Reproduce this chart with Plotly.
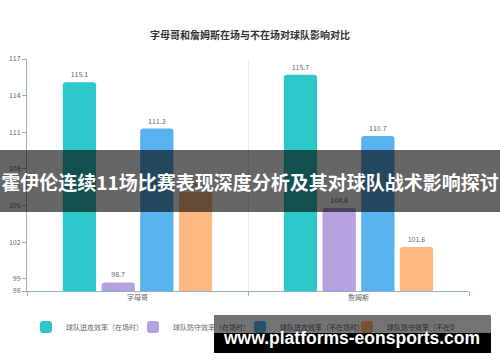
import plotly.graph_objects as go

categories = ["字母哥", "詹姆斯"]
series_names = ["球队进攻效率（在场时）", "球队防守效率（在场时）",
                "球队进攻效率（不在场时）", "球队防守效率（不在场时）"]
off_on = [115.1, 115.7]
def_on = [98.7, 104.8]
off_off = [111.3, 110.7]
def_off = [106.1, 101.6]
series_values = [off_on, def_on, off_off, def_off]
colors = ["#2ec7c9", "#b6a2de", "#5ab1ef", "#ffb980"]
y_ticks = [98, 99, 102, 105, 108, 111, 114, 117]

W, H = 500, 362
L, R, T, B = 27, 31, 59, 71
PW, PH = W - L - R, H - T - B
FONT = "Noto Sans CJK SC, Noto Sans, sans-serif"


def px(x):
    return (x - L) / PW


def py(y):
    return (H - B - y) / PH


fig = go.Figure()
for name, vals, c in zip(series_names, series_values, colors):
    fig.add_trace(go.Bar(
        x=categories, y=vals, name=name,
        marker=dict(color=c, cornerradius=3, line=dict(width=0)),
        text=vals, texttemplate="%{y}", textposition="outside",
        textfont=dict(size=7, color="#666666", family=FONT),
        cliponaxis=False,
    ))

axis_col = "#8fb3bf"
fig.update_layout(
    width=W, height=H,
    margin=dict(l=L, r=R, t=T, b=B, pad=0, autoexpand=False),
    paper_bgcolor="white", plot_bgcolor="white",
    font=dict(family=FONT, color="#666666"),
    barmode="group", bargap=0.30, bargroupgap=0.14,
    title=dict(text="<b>字母哥和詹姆斯在场与不在场对球队影响对比</b>",
               x=0.5, xref="container", xanchor="center",
               y=1 - 35 / H, yref="container", yanchor="middle",
               font=dict(size=10, color="#333333", family=FONT)),
    xaxis=dict(showline=True, linecolor=axis_col, linewidth=1,
               ticks="outside", ticklen=4, tickcolor=axis_col,
               tickson="boundaries", showgrid=True, gridcolor="#e3ecef",
               tickfont=dict(size=7, color="#666666")),
    yaxis=dict(range=[98, 117], tickvals=y_ticks, showline=True,
               linecolor=axis_col, linewidth=1, ticks="outside", ticklen=4,
               tickcolor=axis_col, showgrid=False, zeroline=False,
               tickfont=dict(size=7, color="#666666")),
    legend=dict(orientation="h", x=px(240), xanchor="center",
                y=py(327), yanchor="middle", itemwidth=30,
                entrywidth=62, entrywidthmode="pixels",
                tracegroupgap=0, bgcolor="rgba(0,0,0,0)",
                font=dict(size=7, color="#666666"), traceorder="normal"),
)

# overlay banner across the middle
fig.add_annotation(xref="paper", yref="paper", x=px(250), y=py(181),
                   xanchor="center", yanchor="middle", showarrow=False,
                   text="<b>霍伊伦连续11场比赛表现深度分析及其对球队战术影响探讨</b>",
                   font=dict(size=19, color="white", family=FONT),
                   bgcolor="rgba(0,0,0,0.6)", width=W, height=62,
                   borderpad=0, borderwidth=0)
# watermark at bottom
fig.add_annotation(xref="paper", yref="paper", x=px(352.5), y=py(324),
                   xanchor="center", yanchor="middle", showarrow=False,
                   text=" ", bgcolor="rgba(0,0,0,0.55)", width=277, height=18,
                   borderpad=0, borderwidth=0)
fig.add_annotation(xref="paper", yref="paper", x=px(352.5), y=py(343),
                   xanchor="center", yanchor="middle", showarrow=False,
                   text=" ", bgcolor="black", width=277, height=20,
                   borderpad=0, borderwidth=0)
fig.add_annotation(xref="paper", yref="paper", x=px(351), y=py(338),
                   xanchor="center", yanchor="middle", showarrow=False,
                   text="<b>www.platforms-eonsports.com</b>",
                   font=dict(size=17.5, color="white",
                             family="Liberation Sans, Arial, sans-serif"))

fig.write_html("out.html", config={"displayModeBar": False},
               post_script="document.body.style.margin='0';document.body.style.padding='0';")
